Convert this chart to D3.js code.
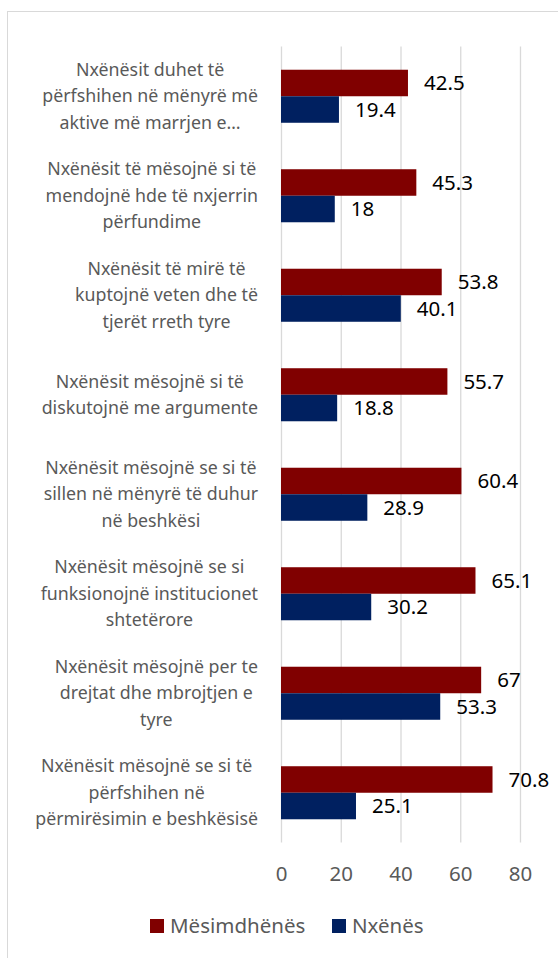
<!DOCTYPE html>
<html>
<head>
<meta charset="utf-8">
<script src="https://cdn.jsdelivr.net/npm/d3@7"></script>
<style>
  body { margin: 0; background: #fff; }
  text { font-family: "Noto Sans", sans-serif; }
</style>
</head>
<body>
<div id="chart-area"></div>
<script>
// category labels, already wrapped the way the original shows them
var categories = [
	"Nxënësit duhet të\npërfshihen në mënyrë më\naktive më marrjen e…",
	"Nxënësit të mësojnë si të\nmendojnë hde të nxjerrin\npërfundime",
	"Nxënësit të mirë të\nkuptojnë veten dhe të\ntjerët rreth tyre",
	"Nxënësit mësojnë si të\ndiskutojnë me argumente",
	"Nxënësit mësojnë se si të\nsillen në mënyrë të duhur\nnë beshkësi",
	"Nxënësit mësojnë se si\nfunksionojnë institucionet\nshtetërore",
	"Nxënësit mësojnë per te\ndrejtat dhe mbrojtjen e\ntyre",
	"Nxënësit mësojnë se si të\npërfshihen në\npërmirësimin e beshkësisë"
];
var teachers = [42.5, 45.3, 53.8, 55.7, 60.4, 65.1, 67, 70.8];
var students = [19.4, 18, 40.1, 18.8, 28.9, 30.2, 53.3, 25.1];
var seriesNames = ["Mësimdhënës", "Nxënës"];
var tickValues = [0, 20, 40, 60, 80];

var colors = {"Mësimdhënës": "#800000", "Nxënës": "#002060"};

var W = 558, H = 958;
var plot = {left: 281, right: 520, top: 46.5, bottom: 842.5};

var svg = d3.select("#chart-area")
	.append("svg")
		.attr("width", W)
		.attr("height", H);

// chart area frame (runs off the right and bottom edge)
svg.append("rect")
	.attr("x", 7.5)
	.attr("y", 11.5)
	.attr("width", 600)
	.attr("height", 1000)
	.attr("fill", "none")
	.attr("stroke", "#d9d9d9");

var x = d3.scaleLinear()
	.domain([0, 80])
	.range([plot.left, plot.right]);

var y = d3.scaleBand()
	.domain(d3.range(categories.length))
	.range([plot.top, plot.bottom])
	.paddingInner(0.467)
	.paddingOuter(0.2335);

var ySub = d3.scaleBand()
	.domain(seriesNames)
	.range([0, y.bandwidth()]);

// grid + tick labels
var xAxis = d3.axisBottom(x)
	.tickValues(tickValues)
	.tickSizeInner(-(plot.bottom - plot.top))
	.tickSizeOuter(0)
	.tickPadding(24);

var gx = svg.append("g")
	.attr("transform", "translate(0," + plot.bottom + ")")
	.call(xAxis);
gx.select(".domain").remove();
gx.selectAll("line").attr("stroke", "#d9d9d9").attr("stroke-width", 1.3);
gx.selectAll("text")
	.attr("fill", "#595959")
	.style("font-size", "20.5px");

// category labels: block right-aligned, lines centred inside it
var lineH = 26.5;
var labelRight = 258;
var catG = svg.append("g");
categories.forEach(function(c, i) {
	var lines = c.split("\n");
	var t = catG.append("text")
		.attr("fill", "#595959")
		.style("font-size", "17.8px");
	var cy = y(i) + y.bandwidth() / 2;
	var spans = t.selectAll("tspan")
		.data(lines)
		.enter()
		.append("tspan")
			.attr("y", function(d, k) { return cy + (k - (lines.length - 1) / 2) * lineH; })
			.attr("dy", "0.35em")
			.text(function(d) { return d; });
	var widths = [];
	spans.each(function() { widths.push(this.getComputedTextLength()); });
	var blockW = d3.max(widths);
	spans.attr("x", labelRight - blockW / 2).attr("text-anchor", "middle");
});

// bars
var rows = categories.map(function(c, i) {
	return {i: i, values: [
		{name: seriesNames[0], value: teachers[i]},
		{name: seriesNames[1], value: students[i]}
	]};
});

var groups = svg.selectAll("g.cat")
	.data(rows)
	.enter()
	.append("g")
		.attr("class", "cat")
		.attr("transform", function(d) { return "translate(0," + y(d.i) + ")"; });

groups.selectAll("rect")
	.data(function(d) { return d.values; })
	.enter()
	.append("rect")
		.attr("x", x(0))
		.attr("y", function(d) { return ySub(d.name); })
		.attr("width", function(d) { return x(d.value) - x(0); })
		.attr("height", ySub.bandwidth())
		.attr("fill", function(d) { return colors[d.name]; });

groups.selectAll("text.val")
	.data(function(d) { return d.values; })
	.enter()
	.append("text")
		.attr("class", "val")
		.attr("x", function(d) { return x(d.value) + 16; })
		.attr("y", function(d) { return ySub(d.name) + ySub.bandwidth() / 2; })
		.attr("dy", "0.36em")
		.attr("fill", "#000")
		.style("font-size", "20.5px")
		.text(function(d) { return d.value; });

// legend
var legend = svg.append("g");
var legendX = [150, 332];
seriesNames.forEach(function(s, i) {
	legend.append("rect")
		.attr("x", legendX[i])
		.attr("y", 919)
		.attr("width", 14)
		.attr("height", 14)
		.attr("fill", colors[s]);
	legend.append("text")
		.attr("x", legendX[i] + 20)
		.attr("y", 926)
		.attr("dy", "0.35em")
		.attr("fill", "#595959")
		.style("font-size", "20.5px")
		.text(s);
});
</script>
</body>
</html>
